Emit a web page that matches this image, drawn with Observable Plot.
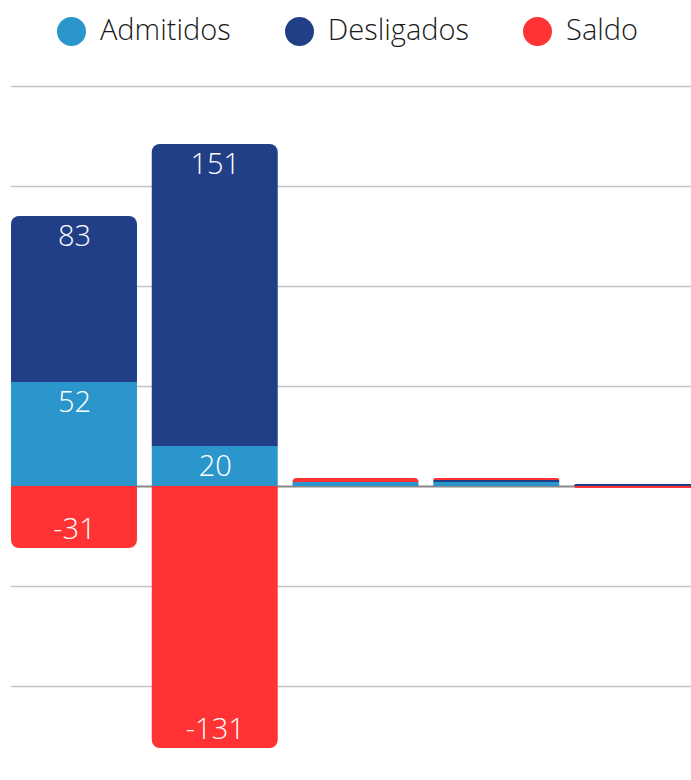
<!DOCTYPE html>
<html>
<head>
<meta charset="utf-8">
<script src="https://cdn.jsdelivr.net/npm/d3@7"></script>
<script src="https://cdn.jsdelivr.net/npm/@observablehq/plot@0.6"></script>
<style>
  html, body { margin: 0; padding: 0; background: #fff; overflow: hidden; width: 691px; }
  #legend { height: 60px; display: flex; justify-content: center; align-items: center; gap: 54px; font-family: 'Open Sans Light', 'Open Sans', sans-serif; font-weight: 300; font-size: 29px; color: #1a1a1a; padding-left: 4px; padding-bottom: 3px; box-sizing: border-box; }
  .item { display: flex; align-items: center; gap: 14px; }
  .dot { width: 29px; height: 29px; border-radius: 50%; display: inline-block; margin-top: 6px; }
  #chart { width: 691px; overflow: hidden; }
  #chart svg { max-width: none !important; }
</style>
</head>
<body>
<div id="legend"></div>
<div id="chart"></div>
<script>
const categories = ["1", "2", "3", "4", "5"];
const admitidos = [52, 20, 2, 2, 0];
const desligados = [83, 151, 0, 1, 1];
const saldo = [-31, -131, 2, 1, -1];
const seriesNames = ["Admitidos", "Desligados", "Saldo"];
const seriesColors = ["#2a96cb", "#213f86", "#ff3333"];
const gridTicks = [-100, -50, 50, 100, 150, 200];

// legend
const legend = document.getElementById("legend");
seriesNames.forEach((n, i) => {
  const it = document.createElement("div");
  it.className = "item";
  const d = document.createElement("span");
  d.className = "dot";
  d.style.background = seriesColors[i];
  const t = document.createElement("span");
  t.textContent = n;
  it.appendChild(d); it.appendChild(t);
  legend.appendChild(it);
});

// build stacked segments
const segs = [];
categories.forEach((c, i) => {
  const vals = [admitidos[i], desligados[i], saldo[i]];
  let pos = 0, top = null;
  vals.forEach((v, k) => {
    if (v > 0) {
      const s = {c, s: seriesNames[k], y1: pos, y2: pos + v, v, end: false};
      segs.push(s); pos += v; top = s;
    } else if (v < 0) {
      segs.push({c, s: seriesNames[k], y1: 0, y2: v, v, end: true});
    }
  });
  if (top) top.end = true;
});
const inner = segs.filter(d => !d.end);
const topEnds = segs.filter(d => d.end && d.v > 0);
const bottomEnds = segs.filter(d => d.end && d.v < 0);
const labels = segs.filter(d => Math.abs(d.v) >= 10);

const chart = Plot.plot({
  width: 700,
  height: 720,
  marginLeft: 11,
  marginRight: 0,
  marginTop: 26,
  marginBottom: 14,
  style: {fontFamily: "'Open Sans Light', 'Open Sans', sans-serif", background: "white", maxWidth: "none"},
  x: {domain: categories, paddingInner: 0.105, paddingOuter: 0, round: false, axis: null},
  y: {domain: [-140, 200], axis: null},
  color: {domain: seriesNames, range: seriesColors},
  marks: [
    Plot.ruleY(gridTicks, {stroke: "#c4c4c4", strokeWidth: 1.6}),
    Plot.ruleY([0], {stroke: "#888888", strokeWidth: 2}),
    Plot.barY(inner, {x: "c", y1: "y1", y2: "y2", fill: "s"}),
    Plot.barY(topEnds, {x: "c", y1: "y1", y2: "y2", fill: "s", ry1: 8}),
    Plot.barY(bottomEnds, {x: "c", y1: "y1", y2: "y2", fill: "s", ry2: 8}),
    Plot.text(labels.filter(d => d.v > 0), {x: "c", y: "y2", text: d => String(d.v), dy: 20, fill: "white", fontSize: 29, fontWeight: 300}),
    Plot.text(labels.filter(d => d.v < 0), {x: "c", y: "y2", text: d => String(d.v), dy: -19, fill: "white", fontSize: 29, fontWeight: 300})
  ]
});
document.getElementById("chart").appendChild(chart);
</script>
</body>
</html>
